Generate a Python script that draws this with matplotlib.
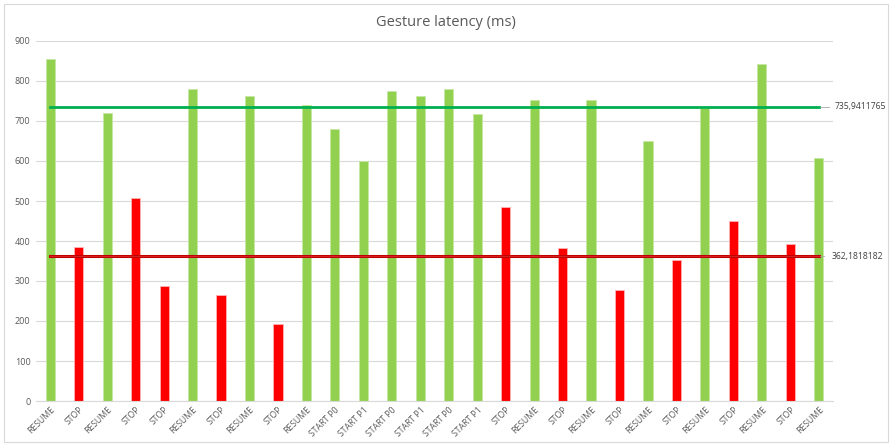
import matplotlib
matplotlib.use("Agg")
import matplotlib.pyplot as plt
from matplotlib.patches import Rectangle

categories = ["RESUME", "STOP", "RESUME", "STOP", "STOP", "RESUME", "STOP", "RESUME", "STOP",
              "RESUME", "START P0", "START P1", "START P0", "START P1", "START P0", "START P1",
              "STOP", "RESUME", "STOP", "RESUME", "STOP", "RESUME", "STOP", "RESUME", "STOP",
              "RESUME", "STOP", "RESUME"]
values = [856, 384, 720, 508, 288, 780, 266, 763, 192, 741, 681, 599, 776, 763, 780, 718,
          486, 753, 382, 753, 278, 651, 353, 732, 450, 842, 393, 608]
mean_green = 735.9411765
mean_red = 362.1818182
mean_green_label = "735,9411765"
mean_red_label = "362,1818182"
title = "Gesture latency (ms)"
yticks = [0, 100, 200, 300, 400, 500, 600, 700, 800, 900]

plt.rcParams['font.family'] = ['Open Sans', 'DejaVu Sans']

fig = plt.figure(figsize=(8.91, 4.44), dpi=100)
fig.patches.append(Rectangle((4/891, 2/444), 884/891, 438/444, transform=fig.transFigure,
                             fill=False, edgecolor='#D9D9D9', linewidth=0.8))
ax = fig.add_axes([36/891, 1-401/444, (833-36)/891, (401-41)/444])

x = list(range(len(categories)))
colors = ['#FF0000' if c == 'STOP' else '#92D050' for c in categories]
edges = ['#FFB3B3' if c == 'STOP' else '#C6E6A4' for c in categories]
ax.bar(x, values, width=0.32, color=colors, edgecolor=edges, linewidth=0.6, zorder=2)

ax.plot([x[0], x[-1]], [mean_green, mean_green], color='#00B050', linewidth=2.0, zorder=3)
ax.plot([x[0], x[-1]], [mean_red, mean_red], color='#C00000', linewidth=2.2, zorder=3)
ax.plot([x[0], x[-1]], [mean_red, mean_red], color='#E03030', linewidth=0.5, zorder=3)

ax.set_xlim(-0.5, len(categories) - 0.5)
ax.set_ylim(0, 900)
ax.set_yticks(yticks)
ax.set_yticklabels([str(v) for v in yticks], fontsize=6.5, color='#595959')
ax.set_xticks(x)
ax.set_xticklabels(categories, rotation=45, ha='right', rotation_mode='anchor',
                   fontsize=6.2, color='#595959')
ax.tick_params(axis='both', length=0, pad=4)
ax.tick_params(axis='x', pad=3)
ax.grid(axis='y', color='#D9D9D9', linewidth=0.8, zorder=0)
ax.set_axisbelow(True)
for s in ['top', 'right', 'left']:
    ax.spines[s].set_visible(False)
ax.spines['bottom'].set_color('#D9D9D9')
ax.spines['bottom'].set_linewidth(0.8)

# mean labels with leader lines
for val, lab, l0, l1, tx in [(mean_green, mean_green_label, 27.05, 27.36, 27.55),
                             (mean_red, mean_red_label, 27.03, 27.18, 27.44)]:
    ax.plot([l0, l1], [val, val], color='#A6A6A6', linewidth=0.6,
            clip_on=False, zorder=3)
    ax.text(tx, val, lab, fontsize=6.2, color='#404040', va='center', ha='left',
            clip_on=False)

fig.text(0.5, 1-22/444, title, ha='center', va='center', fontsize=10.5, color='#595959')

fig.savefig("out.png", dpi=100)
